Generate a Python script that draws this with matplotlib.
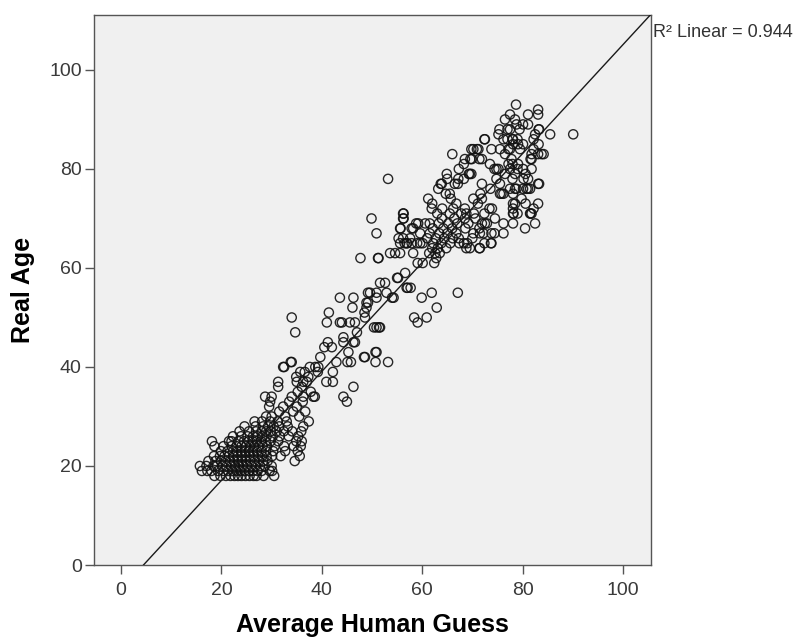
import numpy as np
import matplotlib
matplotlib.use("Agg")
import matplotlib.pyplot as plt

# ---- data (x = average human guess, y = real age) ----
# young cluster, listed row by row (one row per real age)
young_rows = {
    18: [18.6, 19.8, 20.9, 21.8, 22.6, 23.3, 24.0, 24.8, 25.6, 26.4, 27.0, 28.4, 30.5],
    19: [16.1, 17.2, 18.0, 19.3, 20.4, 21.3, 22.2, 23.0, 23.8, 24.6, 25.5, 26.3, 27.2, 28.0, 29.6, 30.1],
    20: [15.7, 17.0, 18.4, 19.1, 20.2, 21.0, 21.9, 22.7, 23.5, 24.3, 25.1, 26.0, 26.8, 27.7, 28.6, 30.0],
    21: [17.4, 18.8, 19.9, 20.8, 21.7, 22.5, 23.3, 24.1, 24.9, 25.7, 26.6, 27.5, 28.3, 29.2, 34.6],
    22: [18.5, 19.7, 20.6, 21.5, 22.4, 23.2, 24.0, 24.8, 25.6, 26.4, 27.3, 28.1, 29.0, 30.1, 31.8, 35.6],
    23: [19.9, 21.2, 22.3, 23.1, 23.9, 24.7, 25.5, 26.3, 27.1, 28.0, 28.9, 30.3, 32.7, 35.2],
    24: [18.6, 20.4, 22.0, 23.0, 24.0, 24.9, 25.7, 26.5, 27.4, 28.2, 29.1, 30.6, 32.5, 34.4, 35.8],
    25: [18.1, 21.5, 22.0, 23.4, 24.5, 25.4, 26.2, 27.0, 27.9, 28.8, 29.8, 31.3, 34.9, 36.0],
    26: [22.3, 23.9, 25.2, 26.3, 27.2, 28.1, 29.0, 30.2, 31.6, 33.4, 35.3],
    27: [23.6, 25.5, 26.9, 28.0, 28.9, 29.8, 31.0, 32.4, 34.1, 35.9],
    28: [24.6, 26.8, 28.3, 29.3, 30.4, 31.5, 33.2, 36.3],
    29: [26.6, 28.1, 29.7, 31.2, 33.0, 37.4],
    30: [28.9, 30.0, 32.7, 35.5],
}

mid_guess = [31.5, 34.3, 36.7, 29.5, 32.3, 35.0, 29.7, 33.5, 36.2, 45.0,
             28.7, 30.0, 34.0, 36.3, 38.3, 38.6, 44.3, 35.2, 37.8,
             31.3, 46.3, 36.0, 31.3, 35.0, 37.0, 40.9, 42.2, 36.3,
             37.3, 34.9, 35.7, 36.6, 39.2, 42.2,
             32.3, 37.6, 38.7, 39.3, 32.5,
             33.8, 34.0, 42.9, 45.1, 45.8, 50.7, 53.2,
             39.7, 48.4, 48.6, 45.3, 50.7, 50.9, 40.5, 42.0,
             41.2, 44.3, 46.3, 46.6, 44.3, 34.7, 47.0,
             50.4, 51.4, 50.9, 51.6,
             41.0, 43.6, 44.0, 45.6, 46.6, 59.1,
             34.0, 48.6, 58.4, 60.9, 41.4, 48.5,
             46.1, 48.9, 62.9, 48.9, 49.2,
             43.6, 46.3, 54.3, 54.0, 50.9, 59.9,
             49.6, 50.9, 52.9, 49.2, 61.9, 67.1,
             56.9, 57.7, 57.1, 51.6, 52.6, 55.2, 55.0, 56.6,
             59.1, 60.1, 62.4, 47.7, 51.3, 51.2, 62.8]
mid_age = [31, 31, 31, 32, 32, 32, 33, 33, 33, 33,
           34, 34, 34, 34, 34, 34, 34, 35, 35,
           36, 36, 36, 37, 37, 37, 37, 37, 37,
           38, 38, 39, 39, 39, 39,
           40, 40, 40, 40, 40,
           41, 41, 41, 41, 41, 41, 41,
           42, 42, 42, 43, 43, 43, 44, 44,
           45, 45, 45, 45, 46, 47, 47,
           48, 48, 48, 48,
           49, 49, 49, 49, 49, 49,
           50, 50, 50, 50, 51, 51,
           52, 52, 52, 53, 53,
           54, 54, 54, 54, 54, 54,
           55, 55, 55, 55, 55, 55,
           56, 56, 56, 57, 57, 58, 58, 59,
           61, 61, 61, 62, 62, 62, 62]

old_rows = {
    63: [53.6, 54.6, 55.6, 58.2, 61.4, 62.6, 63.5],
    64: [62.0, 63.1, 64.8, 68.8, 69.5, 71.4, 71.5],
    65: [55.6, 56.5, 57.0, 56.9, 57.9, 59.0, 59.6, 60.1, 62.2, 63.8, 65.6, 67.4, 68.3, 69.0, 72.4, 73.7, 73.8],
    66: [55.3, 56.2, 57.6, 61.0, 62.7, 64.4, 66.1, 67.3, 70.0],
    67: [50.9, 59.6, 61.5, 63.4, 65.0, 66.8, 70.2, 71.5, 72.2, 73.8, 74.4, 76.2],
    68: [55.6, 55.7, 57.9, 58.2, 62.1, 64.2, 66.0, 68.6, 71.4, 80.5],
    69: [58.8, 59.2, 60.6, 61.5, 63.3, 65.2, 67.0, 69.2, 71.9, 72.5, 72.9, 76.2, 78.1, 82.5],
    70: [49.9, 56.3, 56.2, 63.9, 66.4, 68.5, 70.6, 74.5],
    71: [56.3, 56.2, 63.0, 65.5, 67.8, 68.8, 70.3, 72.4, 78.2, 78.1, 79.0, 81.5, 81.8, 81.6],
    72: [61.9, 64.0, 66.2, 68.5, 73.4, 73.9, 78.1, 82.2],
    73: [62.0, 66.8, 71.1, 78.5, 78.1, 80.6, 83.1],
    74: [61.2, 65.7, 70.2, 71.9, 79.8],
    75: [64.7, 65.5, 71.6, 75.5, 76.2, 75.8, 78.1],
    76: [63.2, 73.6, 77.5, 78.5, 78.8, 80.1, 80.8, 81.1, 81.5],
    77: [63.7, 63.9, 66.5, 67.1, 71.9, 75.5, 83.1, 83.3],
    78: [53.2, 65.0, 67.2, 68.3, 74.8, 78.0, 81.1, 80.2],
    79: [64.9, 69.3, 69.8, 69.5, 76.5, 80.6, 78.5],
    80: [67.3, 74.4, 74.8, 75.2, 79.0, 80.1, 81.8, 77.5],
    81: [68.3, 73.5, 77.2, 78.0, 79.1],
    82: [69.6, 71.4, 71.9, 69.9, 68.5, 77.8, 81.6, 81.8],
    83: [66.0, 76.5, 81.8, 83.8, 84.2, 83.1],
    84: [69.8, 70.9, 70.2, 71.2, 73.8, 75.5, 77.2, 77.5, 79.5, 82.2],
    85: [78.1, 79.1, 80.1, 83.2],
    86: [72.4, 72.5, 76.2, 77.0, 78.0, 78.1, 79.0, 82.2],
    87: [75.2, 82.5, 85.5, 90.1],
    88: [75.4, 77.0, 77.5, 79.4, 83.2, 83.3],
    89: [78.8, 80.1, 81.1],
    90: [76.5, 78.5],
    91: [77.5, 81.1, 83.1],
    92: [83.1],
    93: [78.7],
}

# fit line as printed in the chart
fit_intercept = -4.9
fit_slope = 1.10
r2_text = "R\u00b2 Linear = 0.944"

# ---- assemble ----
guess = list(mid_guess)
age = list(mid_age)
for rows in (young_rows, old_rows):
    for a, xs in rows.items():
        guess += xs
        age += [a] * len(xs)
guess = np.array(guess)
age = np.array(age)

plt.rcParams['font.family'] = ['Liberation Sans', 'DejaVu Sans']

fig = plt.figure(figsize=(8.04, 6.39), dpi=100)
ax = fig.add_axes([0.1163, 0.1158, 0.6934, 0.8607])
ax.set_facecolor('#f0f0f0')

ax.scatter(guess, age, s=44, facecolors='none', edgecolors='#111111',
           linewidths=1.0, alpha=0.9, zorder=2)

xmin, xmax = -5.5, 105.6
ymin, ymax = 0, 111.1
xl = np.array([xmin, xmax])
ax.plot(xl, fit_intercept + fit_slope * xl, color='#1a1a1a', lw=1.0, zorder=3)

ax.set_xlim(xmin, xmax)
ax.set_ylim(ymin, ymax)
ax.set_xticks([0, 20, 40, 60, 80, 100])
ax.set_yticks([0, 20, 40, 60, 80, 100])
ax.tick_params(direction='out', length=6.5, width=1, color='#555555',
               labelsize=14, labelcolor='#3a3a3a')
ax.tick_params(axis='x', pad=6)
ax.tick_params(axis='y', pad=2)
for sp in ax.spines.values():
    sp.set_color('#555555')
    sp.set_linewidth(1.0)

ax.set_xlabel('Average Human Guess', fontsize=18, fontweight='bold', labelpad=10)
ax.set_ylabel('Real Age', fontsize=18, fontweight='bold', labelpad=10)

ax.text(1.003, 0.968, r2_text, transform=ax.transAxes, fontsize=13,
        color='#333333', ha='left', va='center', clip_on=False)

fig.savefig('out.png', dpi=100, facecolor='white')
